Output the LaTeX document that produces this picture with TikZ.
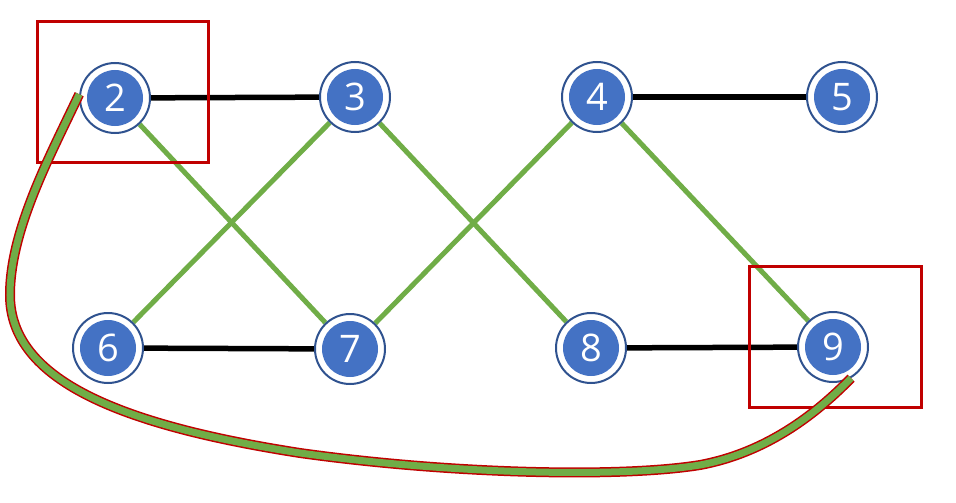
\documentclass[tikz,border=0pt]{standalone}
\usepackage{fontspec}
\setmainfont{Open Sans}
\usetikzlibrary{backgrounds}
\definecolor{nodeblue}{HTML}{4472C4}
\definecolor{ringblue}{HTML}{2F528F}
\definecolor{edgegreen}{HTML}{70AD47}
\definecolor{boxred}{HTML}{C00000}
\tikzset{
  vertex/.style={circle, minimum size=70pt, inner sep=0pt, fill=white,
    draw=ringblue, line width=2pt, text=white,
    font=\fontsize{38}{38}\selectfont,
    path picture={\fill[nodeblue] (path picture bounding box.center) circle (28pt);}},
  plainedge/.style={line width=5.5pt, black},
  crossedge/.style={line width=5pt, edgegreen},
  markbox/.style={line width=3pt, boxred},
  routeouter/.style={line width=10pt, boxred},
  routeinner/.style={line width=7pt, edgegreen}
}
\begin{document}
\begin{tikzpicture}[x=1pt, y=-1pt]
\useasboundingbox (0,0) rectangle (956,503);
% vertices
\node[vertex] (n2) at (115,98) {2};
\node[vertex] (n3) at (355,97) {3};
\node[vertex] (n4) at (597,97) {4};
\node[vertex] (n5) at (842,97) {5};
\node[vertex] (n6) at (108,348) {6};
\node[vertex] (n7) at (350,349) {7};
\node[vertex] (n8) at (591,348) {8};
\node[vertex] (n9) at (833,347) {9};
\begin{pgfonlayer}{background}
  % horizontal edges
  \draw[plainedge] (n2) -- (n3);
  \draw[plainedge] (n4) -- (n5);
  \draw[plainedge] (n6) -- (n7);
  \draw[plainedge] (n8) -- (n9);
  % crossing edges
  \draw[crossedge] (n2) -- (n7);
  \draw[crossedge] (n3) -- (n6);
  \draw[crossedge] (n3) -- (n8);
  \draw[crossedge] (n4) -- (n7);
  \draw[crossedge] (n4) -- (n9);
  % highlight frames
  \draw[markbox] (37,22) rectangle (208,162);
  \draw[markbox] (749,266) rectangle (921,407);
\end{pgfonlayer}
% wrap-around route from 2 to 9
\foreach \st in {routeouter, routeinner}{
  \draw[\st] (n2.174) .. controls (50,156) and (10,230) .. (10,295)
    .. controls (10,380) and (120,425) .. (300,453)
    .. controls (450,474) and (620,478) .. (700,465)
    .. controls (770,452) and (820,410) .. (n9.-60);
}
\end{tikzpicture}
\end{document}
